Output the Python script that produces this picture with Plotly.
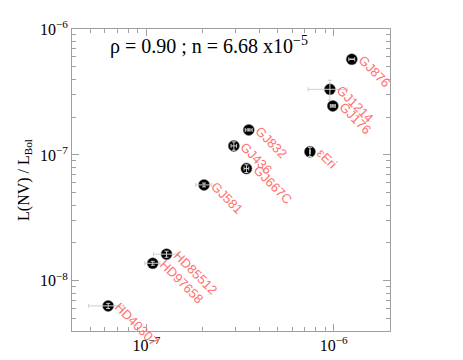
import numpy as np
import plotly.graph_objects as go

# ---- data ----
names = ["GJ876", "GJ1214", "GJ176", "GJ832", "GJ436", "εEri", "GJ667C",
         "GJ581", "HD85512", "HD97658", "HD40307"]
x_vals = [1.25e-6, 9.55e-7, 9.9e-7, 3.52e-7, 2.93e-7, 7.47e-7, 3.42e-7,
          2.03e-7, 1.28e-7, 1.08e-7, 6.24e-8]
y_vals = [5.75e-7, 3.32e-7, 2.45e-7, 1.58e-7, 1.18e-7, 1.06e-7, 7.8e-8,
          5.78e-8, 1.63e-8, 1.38e-8, 6.33e-9]
x_err = [0.045e-6, 2.25e-7, 0.03e-6, 0.15e-7, 0.1e-7, 0.0, 0.1e-7,
         0.2e-7, 0.19e-7, 0.1e-7, 1.33e-8]
y_err = [0.01e-7, 0.6e-7, 0.05e-7, 0.03e-7, 0.09e-7, 0.09e-7, 0.55e-8,
         0.2e-8, 0.09e-8, 0.05e-8, 0.03e-8]

rho_text = "ρ = 0.90 ; n = 6.68 x10<sup>−5</sup>"
y_title = "L(NV) / L<sub>Bol</sub>"
x_major = [1e-7, 1e-6]
x_major_text = ["10<sup>−7</sup>", "10<sup>−6</sup>"]
y_major = [1e-8, 1e-7, 1e-6]
y_major_text = ["10<sup>−8</sup>", "10<sup>−7</sup>", "10<sup>−6</sup>"]

SERIF = "Liberation Serif"
SANS = "Liberation Sans"
AX = "#a0a0a0"
ERR = "#cfcfcf"
LAB = "#ff7070"

X_RANGE = [np.log10(4e-8), np.log10(2e-6)]
Y_RANGE = [np.log10(4e-9), -6.0]


def all_ticks(lo, hi):
    vals = [m * 10.0 ** e for e in range(lo, hi) for m in range(1, 10)]
    return vals


def tick_text(vals, majors, major_text):
    out = []
    for v in vals:
        lab = ""
        for mv, mt in zip(majors, major_text):
            if abs(np.log10(v) - np.log10(mv)) < 1e-6:
                lab = mt
        out.append(lab)
    return out


xt = all_ticks(-9, -5)
yt = all_ticks(-10, -5)

fig = go.Figure()
fig.add_trace(go.Scatter(
    x=x_vals, y=y_vals, mode="markers",
    marker=dict(size=11, color="black", line=dict(width=0.5, color="#555")),
    showlegend=False, hoverinfo="skip"))
# error bars drawn on top of markers
fig.add_trace(go.Scatter(
    x=x_vals, y=y_vals, mode="markers",
    marker=dict(size=1, color="rgba(0,0,0,0)"),
    error_x=dict(type="data", array=x_err, color=ERR, thickness=1, width=2),
    error_y=dict(type="data", array=y_err, color=ERR, thickness=1, width=2),
    showlegend=False, hoverinfo="skip"))
# invisible trace carrying the overlay axes (longer major ticks)
fig.add_trace(go.Scatter(
    x=x_vals, y=y_vals, xaxis="x2", yaxis="y2", mode="markers",
    marker=dict(size=1, color="rgba(0,0,0,0)"),
    showlegend=False, hoverinfo="skip"))

for n, xv, yv in zip(names, x_vals, y_vals):
    fig.add_annotation(x=np.log10(xv), y=np.log10(yv), xref="x", yref="y",
                       text=n, showarrow=False, textangle=45,
                       xanchor="left", yanchor="top", xshift=1, yshift=9,
                       font=dict(family=SANS, size=13, color=LAB))

fig.add_annotation(x=0.113, y=0.947, xref="paper", yref="paper",
                   text=rho_text, showarrow=False, xanchor="left",
                   yanchor="middle",
                   font=dict(family=SERIF, size=20, color="black"))

base = dict(type="log", showgrid=False, zeroline=False, automargin=False,
            ticks="inside", tickcolor=AX,
            tickfont=dict(family=SERIF, size=16, color="black"))

fig.update_layout(
    width=463, height=360,
    margin=dict(l=64, r=81, t=21, b=37),
    plot_bgcolor="white", paper_bgcolor="white",
    xaxis=dict(range=X_RANGE, tickvals=xt, ticktext=tick_text(xt, x_major, x_major_text),
               ticklen=4, showline=True, linecolor=AX, linewidth=1, mirror="ticks",
               **base),
    yaxis=dict(range=Y_RANGE, tickvals=yt, ticktext=tick_text(yt, y_major, y_major_text),
               ticklen=4, showline=True, linecolor=AX, linewidth=1, mirror="ticks",
               title=dict(text=y_title, standoff=6,
                          font=dict(family=SERIF, size=16, color="black")),
               **base),
    xaxis2=dict(range=X_RANGE, overlaying="x", side="bottom", anchor="y2",
                tickvals=x_major, ticklen=7, showticklabels=False,
                showline=False, mirror="ticks", **base),
    yaxis2=dict(range=Y_RANGE, overlaying="y", side="left", anchor="x2",
                tickvals=y_major, ticklen=7, showticklabels=False,
                showline=False, mirror="ticks", **base),
)

fig.write_html("out.html")
